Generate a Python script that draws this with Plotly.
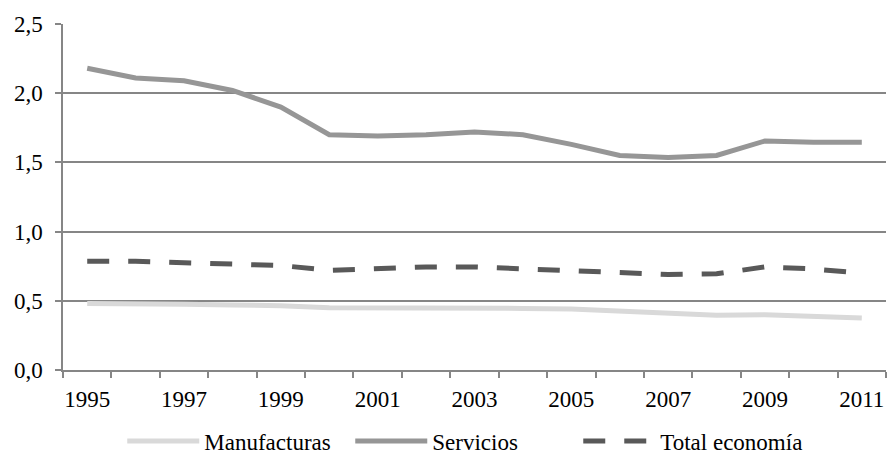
import plotly.graph_objects as go

years = list(range(1995, 2012))
manufacturas = [0.48, 0.48, 0.475, 0.47, 0.465, 0.45, 0.45, 0.452, 0.452, 0.445, 0.44, 0.425, 0.41, 0.395, 0.40, 0.39, 0.375]
servicios = [2.18, 2.11, 2.09, 2.02, 1.90, 1.70, 1.69, 1.70, 1.72, 1.70, 1.63, 1.55, 1.535, 1.55, 1.655, 1.645, 1.645]
total = [0.785, 0.785, 0.775, 0.765, 0.755, 0.72, 0.73, 0.745, 0.745, 0.73, 0.72, 0.70, 0.69, 0.695, 0.745, 0.73, 0.70]
year_labels = [str(y) for y in range(1995, 2012, 2)]

font = "Liberation Serif, Times New Roman, serif"
fs = 23

fig = go.Figure()
fig.add_trace(go.Scatter(x=years, y=manufacturas, mode="lines", name="Manufacturas",
                         line=dict(color="#d9d9d9", width=5)))
fig.add_trace(go.Scatter(x=years, y=servicios, mode="lines", name="Servicios",
                         line=dict(color="#969696", width=5)))
fig.add_trace(go.Scatter(x=years, y=total, mode="lines", name="Total economía",
                         line=dict(color="#595959", width=5, dash="22px,19px")))

fig.update_layout(
    width=893, height=459,
    margin=dict(l=63, r=7, t=24, b=89, autoexpand=False),
    paper_bgcolor="white", plot_bgcolor="white",
    separators=",.",
    font=dict(family=font, size=fs, color="black"),
    showlegend=True,
    legend=dict(orientation="h", x=0.072, xanchor="left", y=-0.205, yanchor="middle",
                font=dict(family=font, size=fs), itemwidth=72, tracegroupgap=0,
                entrywidth=141, entrywidthmode="pixels"),
)
fig.update_xaxes(
    range=[1994.5, 2011.5],
    tickvals=[int(v) for v in year_labels], ticktext=year_labels,
    ticks="", showgrid=False,
    showline=True, linecolor="#868686", linewidth=1.5,
    minor=dict(tickvals=[y + 0.5 for y in range(1994, 2012)], ticks="outside",
               ticklen=6, tickcolor="#868686", tickwidth=1.5, showgrid=False),
    tickfont=dict(family=font, size=fs),
    ticklabelstandoff=8,
    automargin=False,
    zeroline=False,
)
fig.update_yaxes(
    range=[0, 2.5], dtick=0.5, tickformat=".1f",
    showgrid=True, gridcolor="#868686", gridwidth=1.5,
    ticks="outside", ticklen=6, tickcolor="#868686", tickwidth=1.5,
    showline=True, linecolor="#868686", linewidth=1.5,
    zeroline=False,
    ticklabelstandoff=8,
    automargin=False,
    tickfont=dict(family=font, size=fs),
)

fig.write_html("out.html")
